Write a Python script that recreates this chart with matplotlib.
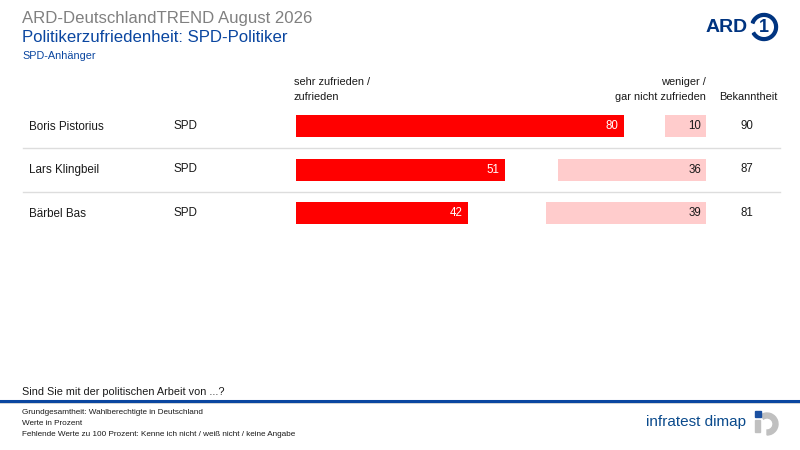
import matplotlib
matplotlib.use("Agg")
import matplotlib.pyplot as plt
from matplotlib.patches import Wedge, Rectangle

plt.rcParams['font.family'] = ['Liberation Sans', 'DejaVu Sans']

names = ["Boris Pistorius", "Lars Klingbeil", "Bärbel Bas"]
parties = ["SPD", "SPD", "SPD"]
zufrieden = [80, 51, 42]
unzufrieden = [10, 36, 39]
bekanntheit = [90, 87, 81]

RED = "#ff0000"
PINK = "#ffcccc"
BLUE = "#0a46a0"
DARK = "#1a1a1a"

fig = plt.figure(figsize=(8, 4.5), dpi=100)

# background axes in pixel coordinates (0..800, 0..450 top-down)
bg = fig.add_axes([0, 0, 1, 1])
bg.set_xlim(0, 800)
bg.set_ylim(450, 0)
bg.axis("off")

bg.text(22, 18, "ARD-DeutschlandTREND August 2026", fontsize=12.1, color="#808080", va="center")
bg.text(22, 38, "Politikerzufriedenheit: SPD-Politiker", fontsize=12.1, color=BLUE, va="center")
bg.text(22, 56, "SPD-Anhänger", fontsize=7.8, color=BLUE, va="center")

# ARD logo
bg.text(748, 28, "ARD", fontsize=14, fontweight="bold", color="#003480", ha="right", va="center")
bg.add_patch(Wedge((764, 27), 13.5, 200, 150, width=2.8, color="#003480"))
bg.text(764, 27.5, "1", fontsize=13, fontweight="bold", color="#003480", ha="center", va="center")

# column headers
hdr = 7.9
bg.text(294, 82, "sehr zufrieden /", fontsize=hdr, color=DARK, va="center")
bg.text(294, 97, "zufrieden", fontsize=hdr, color=DARK, va="center")
bg.text(706, 82, "weniger /", fontsize=hdr, color=DARK, va="center", ha="right")
bg.text(706, 97, "gar nicht zufrieden", fontsize=hdr, color=DARK, va="center", ha="right")
bg.text(748, 97, "Bekanntheit", fontsize=hdr, color=DARK, va="center", ha="center")

# bars
ax = fig.add_axes([296 / 800, 1 - 235 / 450, 410 / 800, 130.5 / 450])
ax.set_xlim(0, 100)
ax.set_ylim(2.5, -0.5)
ax.axis("off")
ys = list(range(len(names)))
ax.barh(ys, zufrieden, height=0.5, color=RED)
ax.barh(ys, unzufrieden, left=[100 - v for v in unzufrieden], height=0.5, color=PINK)
for y, v in zip(ys, zufrieden):
    ax.text(v - 1.3, y, str(v), color="white", fontsize=8.3, ha="right", va="center")
for y, v in zip(ys, unzufrieden):
    ax.text(98.8, y, str(v), color=DARK, fontsize=8.3, ha="right", va="center")

row_y = [126 + 43.5 * i for i in ys]
for y, n, p, b in zip(row_y, names, parties, bekanntheit):
    bg.text(29, y + 1, n, fontsize=8.4, color=DARK, va="center")
    bg.text(173, y, p, fontsize=8.4, color=DARK, va="center")
    bg.text(747, y, str(b), fontsize=8.3, color=DARK, va="center", ha="center")
for y in row_y[:-1]:
    bg.plot([23, 780], [y + 22, y + 22], color="#dddddd", lw=1)

# footer
bg.text(22, 392, "Sind Sie mit der politischen Arbeit von ...?", fontsize=7.8, color=DARK, va="center")
bg.plot([0, 800], [403, 403], color="#d0d0d0", lw=1.2)
bg.plot([0, 800], [401, 401], color="#0a46a0", lw=2.2)
notes = ["Grundgesamtheit: Wahlberechtigte in Deutschland",
         "Werte in Prozent",
         "Fehlende Werte zu 100 Prozent: Kenne ich nicht / weiß nicht / keine Angabe"]
for i, t in enumerate(notes):
    bg.text(22, 413 + 10.5 * i, t, fontsize=5.9, color=DARK, va="center")

# infratest dimap logo
bg.text(746, 422, "infratest dimap", fontsize=11, color="#0a4a8c", ha="right", va="center")
bg.add_patch(Wedge((767, 424), 11, 235, 90, width=5, color="#c0c0c0"))
bg.add_patch(Rectangle((755, 420), 5, 12, color="#c0c0c0"))
bg.add_patch(Rectangle((755, 411), 5.5, 6, color="#1a4fa0"))

fig.savefig("out.png", dpi=100)
